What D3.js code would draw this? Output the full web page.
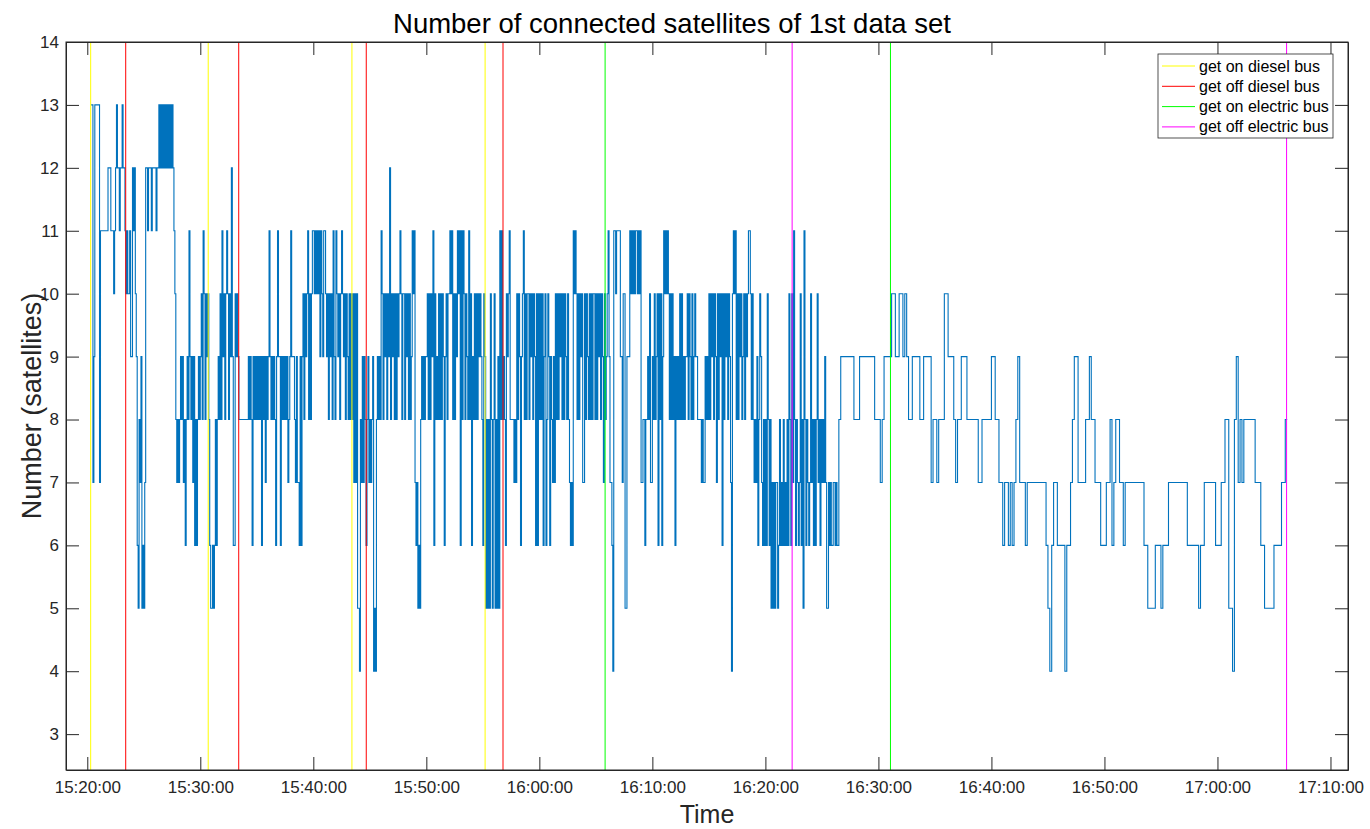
<!DOCTYPE html>
<html>
<head>
<meta charset="utf-8">
<script src="https://cdn.jsdelivr.net/npm/d3@7"></script>
<style>
  html, body { margin: 0; padding: 0; background: #fff; }
  svg { display: block; font-family: "Liberation Sans", Arial, Helvetica, sans-serif; }
</style>
</head>
<body>
<svg id="chart" width="1370" height="829"></svg>
<script>
// ---------------- DATA ----------------
const chartTitle = "Number of connected satellites of 1st data set";
const xAxisLabel = "Time";
const yAxisLabel = "Number (satellites)";

// Satellite counts, hex digits (a=10, b=11, c=12, d=13), one string per minute.
// Busy part: a sample every 5 s from 15:20:20 to 16:26:55
const denseStart = "15:20:20", denseStep = 5;
const dense1520 = ["dd79dddd","d7bbbbbbbbcc","cbbbabcdccbc","cdccbabaab99","cbca96587956",
                   "57ccbcccbccc","cbccdcdcdcdc","dcdcdcdcba87","878989786898","b98979686898"];
const dense1530 = ["9a8ba8a9a865","565686898a8b","9a8aba8a9c96","6a9a98888888","888989869898",
                   "989896989798","9b98989869b9","969898989789","b99987977696","9a8a9ab8a8ab"];
const dense1540 = ["bababab9ba9b","ba9a8a9a8b98","ba9a8aba9a8a","98a8a8a7a7a5","548797986897",
                   "878945489898","ba8a9a8a9c8a","9a8a8a9aba8a","a8a9a8a89bab","767565898989"];
const dense1550 = ["9a8a8a9b6a89","8a8a8a969a8a","abab8a8a9bab","6b8ba8a98b8a","698a8a8a9a98",
                   "6a958585a858","a58595b8b898","6a9ab8888787","a8a969ab8a8a","a8a9a8a96a6a"];
const dense1600 = ["8a8a69a68a96","98797a8a8a9a","8a8a98a87676","baba8a8a9a77","a8a98a8a8aa8",
                   "a8a9a8a97a89","ab97764bbabb","bb997aa55999","babababbabab","778868898a77"];
const dense1610 = ["98a89a6a8a69","bababa8a8a89","69898a8a8989","9a8a98a89a99","888878779898",
                   "a8a9a8a97a8a","9a6a8a9a8a97","4abab8a8a9a8","9a8a9abba8a8","787968a97686"];
const dense1620 = ["86a868575757","756867686768","6a86a7b86876","7a685b868767","a786868a7868",
                   "787975576766","776766889999"];
// Quieter part: a sample every 10 s from 16:27:00 to 17:06:10
const sparseStart = "16:27:00", sparseStep = 10;
const sparse1627 = ["999998","889999","999988"];
const sparse1630 = ["878999","9aa99a","a9a988","999988","999978","87888a","a99987","889998","888887","788888"];
const sparse1640 = ["998877","677676","789777","677777","777776","546776","666466","789977","778898","877766"];
const sparse1650 = ["677867","887767","777777","777665","555666","566677","777777","776666","665667","777776"];
const sparse1700 = ["667788","554897","878888","887776","655555","666677","88"];

// Event markers
const getOnDiesel     = ["15:20:18","15:30:42","15:43:25","15:55:12"];
const getOffDiesel    = ["15:23:24","15:33:24","15:44:41","15:56:47"];
const getOnElectric   = ["16:05:49","16:31:04"];
const getOffElectric  = ["16:22:22","17:06:07"];

const legendLabels = ["get on diesel bus","get off diesel bus","get on electric bus","get off electric bus"];
const legendColors = ["#ffff00","#ff0000","#00ff00","#ff00ff"];

const xTickLabels = ["15:20:00","15:30:00","15:40:00","15:50:00","16:00:00","16:10:00","16:20:00",
                     "16:30:00","16:40:00","16:50:00","17:00:00","17:10:00"];
const yTickValues = [3,4,5,6,7,8,9,10,11,12,13,14];
const xLimits = ["15:18:07","17:11:33"];
const yLimits = [2.43, 14];

// ---------------- BUILD ----------------
const parseT = s => { const [h,m,sec] = s.split(":").map(Number); return new Date(2019,0,1,h,m,sec); };
const expand = (chunks, start, step) => {
  const t0 = parseT(start).getTime();
  return Array.from(chunks.join("")).map((c,i) => ({ t: new Date(t0 + i*step*1000), v: parseInt(c,16) }));
};
const series = expand([].concat(dense1520,dense1530,dense1540,dense1550,dense1600,dense1610,dense1620), denseStart, denseStep)
  .concat(expand([].concat(sparse1627,sparse1630,sparse1640,sparse1650,sparse1700), sparseStart, sparseStep));

const L = 66, R = 1348, T = 42, B = 770;
const svg = d3.select("#chart");
const x = d3.scaleTime().domain(xLimits.map(parseT)).range([L, R]);
const y = d3.scaleLinear().domain(yLimits).range([B, T]);

svg.append("defs").append("clipPath").attr("id","plotclip")
  .append("rect").attr("x",L).attr("y",T).attr("width",R-L).attr("height",B-T);

const plot = svg.append("g").attr("clip-path","url(#plotclip)");

// data line
const line = d3.line().x(d=>x(d.t)).y(d=>y(d.v)).curve(d3.curveStepAfter);
plot.append("path").datum(series)
  .attr("fill","none").attr("stroke","#0072bd").attr("stroke-width",1.1)
  .attr("d", line);

// event lines
const events = [getOnDiesel, getOffDiesel, getOnElectric, getOffElectric];
events.forEach((arr,k) => {
  plot.selectAll(null).data(arr.map(parseT)).enter().append("line")
    .attr("x1",d=>x(d)).attr("x2",d=>x(d))
    .attr("y1",y(yLimits[0])).attr("y2",y(yLimits[1]))
    .attr("stroke",legendColors[k]).attr("stroke-width",1);
});

// axes
const axisColor = "#262626";
const xTicks = xTickLabels.map(parseT);
const fmt = d3.timeFormat("%H:%M:%S");

const gx = svg.append("g").attr("transform",`translate(0,${B})`)
  .call(d3.axisBottom(x).tickValues(xTicks).tickFormat(fmt).tickSizeInner(-13).tickSizeOuter(0).tickPadding(11));
const gxt = svg.append("g").attr("transform",`translate(0,${T})`)
  .call(d3.axisTop(x).tickValues(xTicks).tickFormat("").tickSizeInner(-13).tickSizeOuter(0));
const gy = svg.append("g").attr("transform",`translate(${L},0)`)
  .call(d3.axisLeft(y).tickValues(yTickValues).tickSizeInner(-13).tickSizeOuter(0).tickPadding(7));
const gyr = svg.append("g").attr("transform",`translate(${R},0)`)
  .call(d3.axisRight(y).tickValues(yTickValues).tickFormat("").tickSizeInner(-13).tickSizeOuter(0));

[gx,gxt,gy,gyr].forEach(g => {
  g.select(".domain").attr("stroke",axisColor).attr("stroke-width",1);
  g.selectAll(".tick line").attr("stroke",axisColor).attr("stroke-width",1);
  g.selectAll(".tick text").attr("fill",axisColor).attr("font-size",17)
    .attr("font-family","'Liberation Sans', Arial, sans-serif");
});

// box frame
svg.append("rect").attr("x",L).attr("y",T).attr("width",R-L).attr("height",B-T)
  .attr("fill","none").attr("stroke",axisColor).attr("stroke-width",1);

// title and labels
svg.append("text").attr("x",672).attr("y",33).attr("text-anchor","middle")
  .attr("font-size",27.5).attr("fill","#000").text(chartTitle);
svg.append("text").attr("x",(L+R)/2).attr("y",823).attr("text-anchor","middle")
  .attr("font-size",25).attr("fill",axisColor).text(xAxisLabel);
svg.append("text").attr("transform",`translate(41,${(T+B)/2}) rotate(-90)`).attr("text-anchor","middle")
  .attr("font-size",27).attr("fill",axisColor).text(yAxisLabel);

// legend
const lg = svg.append("g");
lg.append("rect").attr("x",1158).attr("y",54).attr("width",175).attr("height",84)
  .attr("fill","#fff").attr("stroke",axisColor).attr("stroke-width",0.8);
legendLabels.forEach((lab,i) => {
  const yy = 66 + i*20.3;
  lg.append("line").attr("x1",1162).attr("x2",1195).attr("y1",yy).attr("y2",yy)
    .attr("stroke",legendColors[i]).attr("stroke-width",1);
  lg.append("text").attr("x",1199).attr("y",yy+5.5).attr("font-size",16)
    .attr("fill","#000").text(lab);
});
</script>
</body>
</html>
